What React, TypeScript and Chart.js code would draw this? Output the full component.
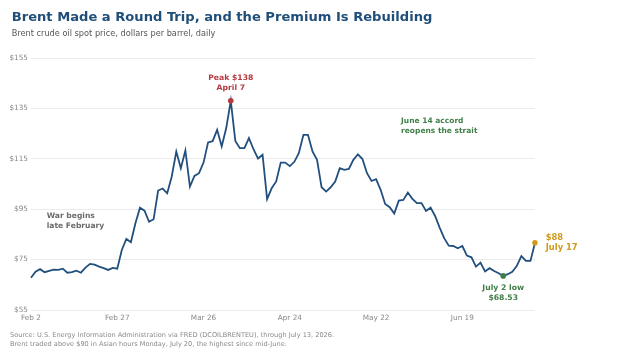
import React, { useEffect, useRef } from 'react';
import { Chart, registerables } from 'chart.js';

Chart.register(...registerables);

const FONT = '"DejaVu Sans", Verdana, sans-serif';

// ---- data ----
const MONTHS = ['Jan', 'Feb', 'Mar', 'Apr', 'May', 'Jun', 'Jul', 'Aug', 'Sep', 'Oct', 'Nov', 'Dec'];
const HOLIDAYS = ['2026-04-03', '2026-04-06', '2026-05-04', '2026-05-25', '2026-07-03'];
const FIRST_DAY = '2026-02-02';
const LAST_DAILY = '2026-07-13';
const EXTRA_DAY = 'Jul 17';

function tradingDays(): string[] {
  const out: string[] = [];
  const d = new Date(FIRST_DAY + 'T12:00:00Z');
  const end = new Date(LAST_DAILY + 'T12:00:00Z');
  while (d <= end) {
    const iso = d.toISOString().slice(0, 10);
    const wd = d.getUTCDay();
    if (wd !== 0 && wd !== 6 && !HOLIDAYS.includes(iso)) {
      out.push(MONTHS[d.getUTCMonth()] + ' ' + d.getUTCDate());
    }
    d.setUTCDate(d.getUTCDate() + 1);
  }
  out.push(EXTRA_DAY);
  return out;
}

const dates = tradingDays();

const brentPrice = [
  67.8, 70.2, 71.2, 70.0, 70.5, 71.0, 70.9, 71.4, 69.8, 70.0,
  70.6, 69.8, 71.8, 73.3, 73.0, 72.2, 71.6, 70.9, 71.7, 71.4,
  78.8, 83.2, 81.9, 89.4, 95.6, 94.4, 90.0, 91.0, 102.4, 103.2,
  101.3, 108.0, 117.9, 111.3, 118.3, 104.0, 108.2, 109.3, 113.5, 121.5,
  122.0, 126.5, 119.9, 127.2, 138.0, 122.1, 119.2, 119.2, 123.2, 118.8,
  115.1, 116.6, 99.0, 103.3, 106.0, 113.5, 113.5, 112.1, 113.8, 117.3,
  124.5, 124.5, 117.9, 114.6, 103.7, 102.0, 103.7, 106.0, 111.3, 110.6,
  111.0, 114.6, 116.8, 114.9, 109.3, 106.2, 106.9, 102.7, 97.1, 95.8,
  93.3, 98.4, 98.7, 101.6, 99.1, 97.4, 97.4, 94.3, 95.6, 92.3,
  87.7, 83.5, 80.5, 80.4, 79.5, 80.4, 76.6, 75.9, 72.2, 73.8,
  70.3, 71.6, 70.5, 69.6, 68.53, 69.2, 70.2, 72.5, 76.4, 74.5,
  74.5, 81.7,
];

const tickDates = ['Feb 2', 'Feb 27', 'Mar 26', 'Apr 24', 'May 22', 'Jun 19'];
const yTicks = { min: 55, max: 155, step: 20 };

const peakIndex = 44;
const lowIndex = 104;
const lastIndex = 111;

const TITLE = 'Brent Made a Round Trip, and the Premium Is Rebuilding';
const SUBTITLE = 'Brent crude oil spot price, dollars per barrel, daily';
const FOOTER = [
  'Source: U.S. Energy Information Administration via FRED (DCOILBRENTEU), through July 13, 2026.',
  'Brent traded above $90 in Asian hours Monday, July 20, the highest since mid-June.',
];

// ---- styles ----
const C_LINE = '#22507e';
const C_TITLE = '#1f4e79';
const C_RED = '#b5393f';
const C_GREEN = '#3f7f47';
const C_GOLD = '#d09a1c';
const C_GRAY = '#6b6b6b';

type Note = {
  lines: string[];
  color: string;
  size: number;
  align: CanvasTextAlign;
  x: number; // category index
  y: number; // value
  dx: number;
  dy: number[];
};

const notes: Note[] = [
  { lines: ['Peak $138', 'April 7'], color: C_RED, size: 7.7, align: 'center', x: peakIndex, y: brentPrice[peakIndex], dx: 0, dy: [-22.4, -12.4] },
  { lines: ['July 2 low', '$68.53'], color: C_GREEN, size: 7.7, align: 'center', x: lowIndex, y: brentPrice[lowIndex], dx: 0, dy: [12.6, 22.6] },
  { lines: ['$88', 'July 17'], color: C_GOLD, size: 8.4, align: 'left', x: lastIndex, y: brentPrice[lastIndex], dx: 10.7, dy: [-5, 5.6] },
  { lines: ['War begins', 'late February'], color: C_GRAY, size: 7.6, align: 'left', x: 0, y: 92.3, dx: 15.7, dy: [0, 10] },
  { lines: ['June 14 accord', 'reopens the strait'], color: C_GREEN, size: 7.5, align: 'left', x: 81, y: 130.0, dx: 2.3, dy: [0, 10] },
];

const textPlugin = {
  id: 'textLayer',
  afterDatasetsDraw(chart: any) {
    const ctx: CanvasRenderingContext2D = chart.ctx;
    const xs = chart.scales.x;
    const ys = chart.scales.y;
    ctx.save();
    ctx.textBaseline = 'middle';
    for (const n of notes) {
      const px = xs.getPixelForValue(n.x) + n.dx;
      const py = ys.getPixelForValue(n.y);
      ctx.font = `bold ${n.size}px ${FONT}`;
      ctx.fillStyle = n.color;
      ctx.textAlign = n.align;
      n.lines.forEach((t, i) => ctx.fillText(t, px, py + n.dy[i]));
    }
    ctx.restore();
  },
  afterDraw(chart: any) {
    const ctx: CanvasRenderingContext2D = chart.ctx;
    ctx.save();
    ctx.textAlign = 'left';
    ctx.textBaseline = 'alphabetic';
    ctx.font = `bold 13.1px ${FONT}`;
    ctx.fillStyle = C_TITLE;
    ctx.fillText(TITLE, 11.7, 20.7);
    ctx.font = `8.2px ${FONT}`;
    ctx.fillStyle = '#555555';
    ctx.fillText(SUBTITLE, 11.7, 36.3);
    ctx.font = `6.6px ${FONT}`;
    ctx.fillStyle = '#8a8a8a';
    ctx.fillText(FOOTER[0], 10, 336.5);
    ctx.fillText(FOOTER[1], 10, 346);
    ctx.restore();
  },
};

export default function App() {
  const ref = useRef<HTMLCanvasElement | null>(null);

  useEffect(() => {
    if (!ref.current) return;
    const chart = new Chart(ref.current, {
      type: 'line',
      data: {
        labels: dates,
        datasets: [
          {
            data: brentPrice,
            borderColor: C_LINE,
            borderWidth: 1.8,
            tension: 0,
            fill: false,
            pointRadius: (c: any) => ([peakIndex, lowIndex, lastIndex].includes(c.dataIndex) ? 2.8 : 0),
            pointBackgroundColor: (c: any) =>
              c.dataIndex === peakIndex ? C_RED : c.dataIndex === lowIndex ? C_GREEN : C_GOLD,
            pointBorderWidth: 0,
            pointHoverRadius: 0,
          },
        ],
      },
      options: {
        animation: false,
        responsive: false,
        devicePixelRatio: 1,
        events: [],
        layout: { padding: { left: 0, right: 85, top: 58, bottom: 32 } },
        plugins: {
          legend: { display: false },
          tooltip: { enabled: false },
          title: { display: false },
        },
        scales: {
          x: {
            type: 'category',
            offset: false,
            grid: { display: false, drawTicks: false },
            border: { display: false },
            afterFit: (s: any) => { s.height = 14; },
            ticks: {
              autoSkip: false,
              maxRotation: 0,
              minRotation: 0,
              padding: 3.5,
              color: '#888888',
              font: { family: FONT, size: 7.3 },
              callback: (_v: any, i: number) => (tickDates.includes(dates[i]) ? dates[i] : null),
            },
          },
          y: {
            min: yTicks.min,
            max: yTicks.max,
            grid: { color: '#ebebeb', lineWidth: 1, drawTicks: false },
            border: { display: false },
            afterFit: (s: any) => { s.width = 31; },
            ticks: {
              stepSize: yTicks.step,
              padding: 3,
              color: '#888888',
              font: { family: FONT, size: 7.3 },
              callback: (v: any) => '$' + v,
            },
          },
        },
      },
      plugins: [textPlugin],
    });
    return () => chart.destroy();
  }, []);

  return (
    <div style={{ position: 'fixed', left: 0, top: 0, width: 620, height: 356, background: '#ffffff' }}>
      <canvas ref={ref} width={620} height={356} style={{ display: 'block', width: 620, height: 356 }} />
    </div>
  );
}
